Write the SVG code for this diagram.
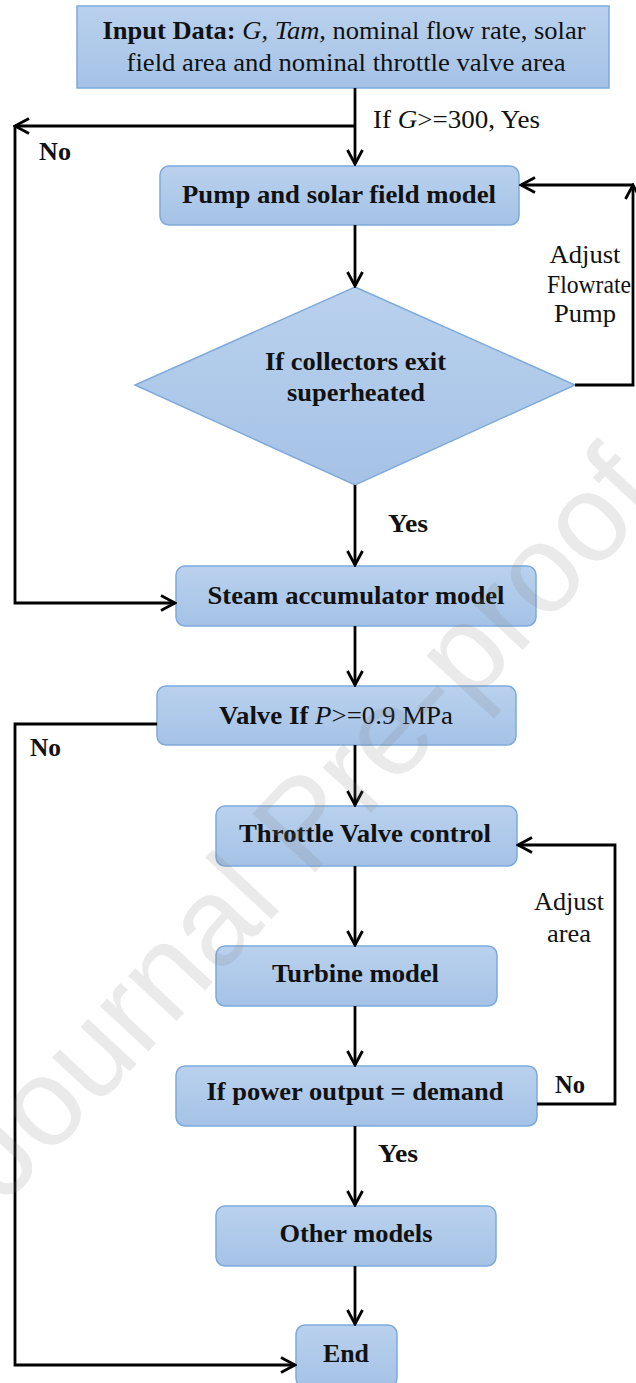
<svg xmlns="http://www.w3.org/2000/svg" width="636" height="1383" viewBox="0 0 636 1383">
<style>
.box{fill:url(#bg);stroke:#7eaadb;stroke-width:1.5}
.b{font-family:'Liberation Serif','Times New Roman',Tinos,Times,serif;font-weight:bold;font-size:25px;fill:#111;text-anchor:middle}
.r{font-family:'Liberation Serif','Times New Roman',Tinos,Times,serif;font-size:25px;fill:#111;text-anchor:middle}
.s{text-anchor:start}
.ln{fill:none;stroke:#000;stroke-width:2.8}
.arr{marker-end:url(#ah)}
</style>
<defs>
<linearGradient id="bg" x1="0" y1="0" x2="0" y2="1">
<stop offset="0" stop-color="#b9d1ed"/>
<stop offset="1" stop-color="#a5c2e6"/>
</linearGradient>
<marker id="ah" viewBox="0 0 18 18" refX="16" refY="9" markerWidth="18" markerHeight="18" markerUnits="userSpaceOnUse" orient="auto">
<path d="M2,1.5 L16,9 L2,16.5" fill="none" stroke="#000" stroke-width="2.8"/>
</marker>
</defs>

<g id="input">
<rect class="box" x="77" y="6" width="532" height="82"/>
<text class="r" x="344" y="39" textLength="483" lengthAdjust="spacingAndGlyphs"><tspan font-weight="bold">Input Data: </tspan><tspan font-style="italic">G, Tam,</tspan> nominal flow rate, solar</text>
<text class="r" x="346" y="71" textLength="439" lengthAdjust="spacingAndGlyphs">field area and nominal throttle valve area</text>
</g>

<g id="pump">
<rect class="box" x="160" y="166" width="359" height="59" rx="9"/>
<text class="b" x="339" y="203" textLength="314" lengthAdjust="spacingAndGlyphs">Pump and solar field model</text>
</g>

<g id="collectors">
<polygon points="355,287 575,385 355,485 135,385" fill="url(#bg)" stroke="#7eaadb" stroke-width="1.5"/>
<text class="b" x="355.5" y="370" textLength="181" lengthAdjust="spacingAndGlyphs">If collectors exit</text>
<text class="b" x="356" y="401" textLength="138" lengthAdjust="spacingAndGlyphs">superheated</text>
</g>

<g id="steam">
<rect class="box" x="176" y="566" width="360" height="60" rx="9"/>
<text class="b" x="356" y="604" textLength="297" lengthAdjust="spacingAndGlyphs">Steam accumulator model</text>
</g>

<g id="valve">
<rect class="box" x="157" y="686" width="359" height="59" rx="9"/>
<text class="b" x="336" y="724" textLength="234" lengthAdjust="spacingAndGlyphs">Valve If <tspan font-weight="normal" font-style="italic">P</tspan><tspan font-weight="normal">&gt;=0.9 MPa</tspan></text>
</g>

<g id="throttle">
<rect class="box" x="216" y="806" width="301" height="60" rx="9"/>
<text class="b" x="365" y="842" textLength="252" lengthAdjust="spacingAndGlyphs">Throttle Valve control</text>
</g>

<g id="turbine">
<rect class="box" x="216" y="946" width="281" height="60" rx="9"/>
<text class="b" x="355.5" y="982" textLength="167" lengthAdjust="spacingAndGlyphs">Turbine model</text>
</g>

<g id="power">
<rect class="box" x="176" y="1066" width="361" height="60" rx="9"/>
<text class="b" x="355" y="1100" textLength="297" lengthAdjust="spacingAndGlyphs">If power output = demand</text>
</g>

<g id="other">
<rect class="box" x="216" y="1206" width="280" height="60" rx="9"/>
<text class="b" x="356" y="1242" textLength="153" lengthAdjust="spacingAndGlyphs">Other models</text>
</g>

<g id="end">
<rect class="box" x="296" y="1325" width="101" height="62" rx="9"/>
<text class="b" x="346" y="1362" textLength="46" lengthAdjust="spacingAndGlyphs">End</text>
</g>

<g id="connectors">
<path class="ln arr" d="M355,88 V164"/>
<path class="ln arr" d="M355,126 H15"/>
<path class="ln arr" d="M15,126 V603 H175"/>
<path class="ln arr" d="M355,225 V286"/>
<path class="ln arr" d="M575,385 H633 V185"/>
<path class="ln arr" d="M633,185 H521"/>
<path class="ln arr" d="M355,485 V565"/>
<path class="ln arr" d="M355,626 V685"/>
<path class="ln arr" d="M157,724 H15 V1365 H295"/>
<path class="ln arr" d="M355,745 V805"/>
<path class="ln arr" d="M355,866 V945"/>
<path class="ln arr" d="M355,1006 V1065"/>
<path class="ln arr" d="M537,1104 H615 V845 H518"/>
<path class="ln arr" d="M355,1126 V1205"/>
<path class="ln arr" d="M355,1266 V1324"/>
</g>

<g id="labels">
<text class="r s" x="373" y="128" textLength="167" lengthAdjust="spacingAndGlyphs">If <tspan font-style="italic">G</tspan>&gt;=300, Yes</text>
<text class="b" x="55" y="160" textLength="32" lengthAdjust="spacingAndGlyphs">No</text>
<text class="r" x="585" y="263" textLength="71" lengthAdjust="spacingAndGlyphs">Adjust</text>
<text class="r" x="589" y="293" textLength="84" lengthAdjust="spacingAndGlyphs">Flowrate</text>
<text class="r" x="585" y="322" textLength="62" lengthAdjust="spacingAndGlyphs">Pump</text>
<text class="b" x="408" y="532" textLength="40" lengthAdjust="spacingAndGlyphs">Yes</text>
<text class="b" x="45.5" y="756" textLength="31" lengthAdjust="spacingAndGlyphs">No</text>
<text class="r" x="569" y="910" textLength="70" lengthAdjust="spacingAndGlyphs">Adjust</text>
<text class="r" x="569" y="942" textLength="44" lengthAdjust="spacingAndGlyphs">area</text>
<text class="b" x="570" y="1093" textLength="30" lengthAdjust="spacingAndGlyphs">No</text>
<text class="b" x="398" y="1162" textLength="40" lengthAdjust="spacingAndGlyphs">Yes</text>
</g>

<g id="watermark" opacity="0.16">
<text x="5" y="1205" transform="rotate(-47 5 1205)" font-family="'Liberation Sans',Arial,sans-serif" font-size="125" fill="#808080">Journal Pre-proof</text>
</g>
</svg>
